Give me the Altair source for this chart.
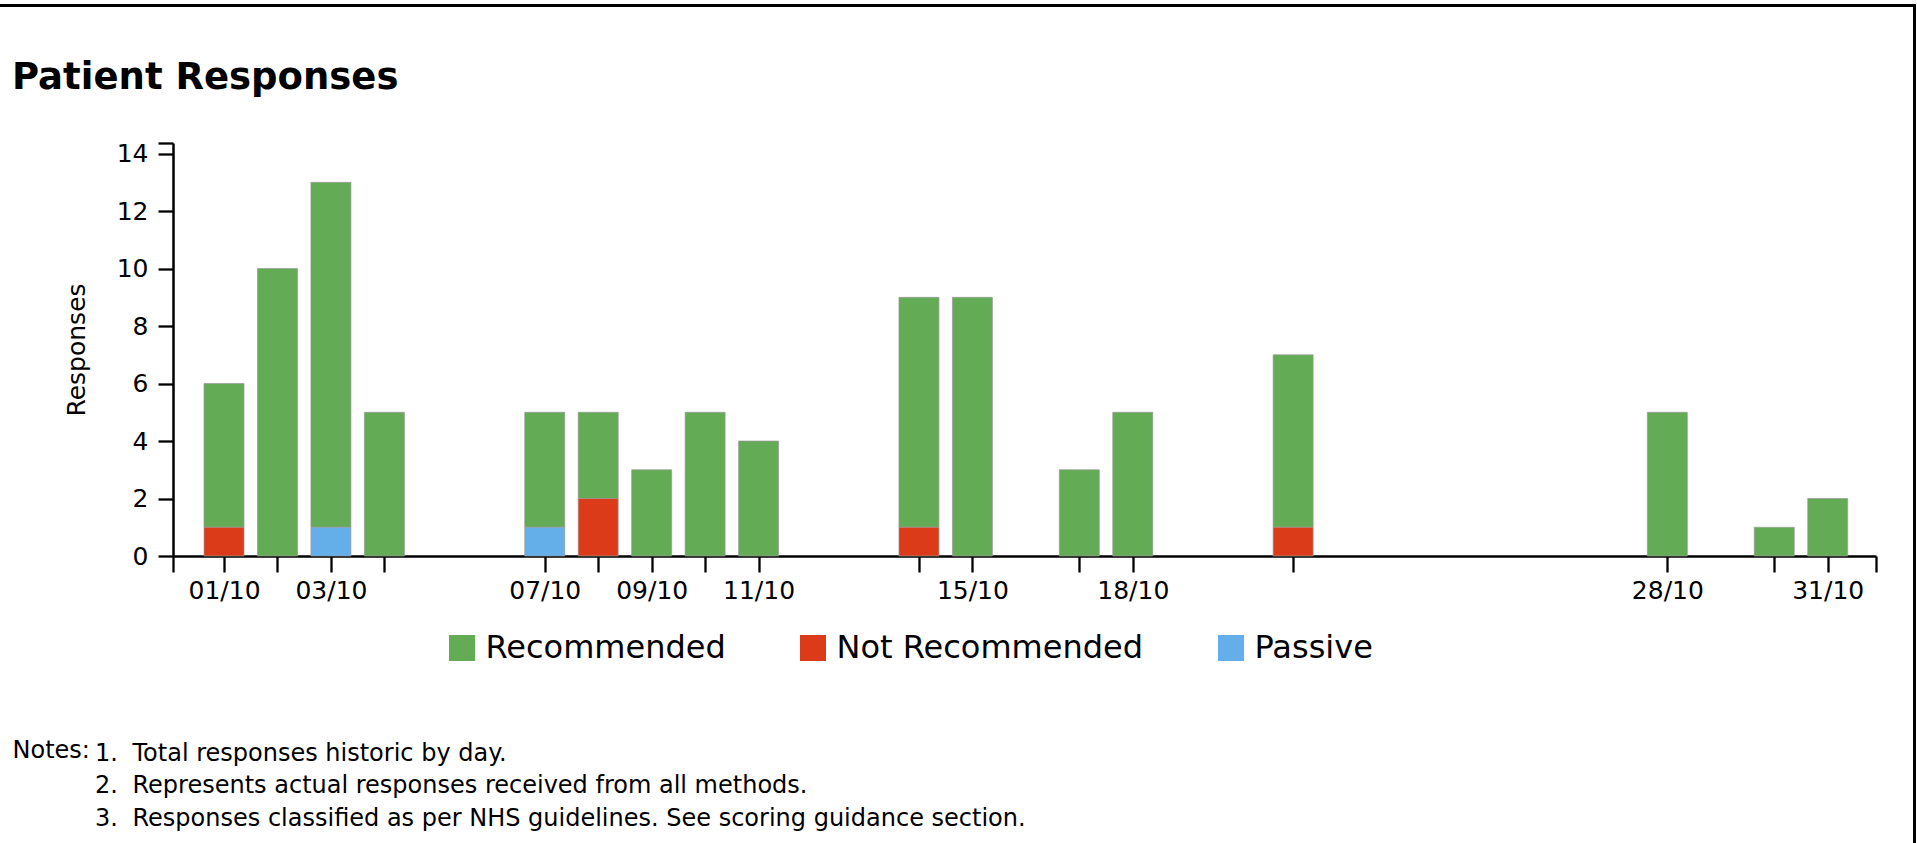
import altair as alt
import pandas as pd

# ---------------- data ----------------
dates = ["2024-10-01", "2024-10-02", "2024-10-03", "2024-10-04", "2024-10-07",
         "2024-10-08", "2024-10-09", "2024-10-10", "2024-10-11", "2024-10-14",
         "2024-10-15", "2024-10-17", "2024-10-18", "2024-10-21", "2024-10-28",
         "2024-10-30", "2024-10-31"]
recommended     = [5, 10, 12, 5, 4, 3, 3, 5, 4, 8, 9, 3, 5, 6, 5, 1, 2]
not_recommended = [1, 0, 0, 0, 0, 2, 0, 0, 0, 1, 0, 0, 0, 1, 0, 0, 0]
passive         = [0, 0, 1, 0, 1, 0, 0, 0, 0, 0, 0, 0, 0, 0, 0, 0, 0]

series = ["Recommended", "Not Recommended", "Passive"]
series_colors = ["#63ab54", "#dc3b1a", "#64aeea"]
stack_rank = {"Not Recommended": 0, "Passive": 1, "Recommended": 2}

labelled_days = ["01/10", "03/10", "07/10", "09/10", "11/10", "15/10", "18/10", "28/10", "31/10"]
y_ticks = [0, 2, 4, 6, 8, 10, 12, 14]
y_max = 14.37

title_text = "Patient Responses"
notes_label = "Notes:"
note_numbers = ["1.", "2.", "3."]
note_lines = ["Total responses historic by day.",
              "Represents actual responses received from all methods.",
              "Responses classified as per NHS guidelines. See scoring guidance section."]

# ---------------- long table ----------------
rows = []
for d, r, n, p in zip(dates, recommended, not_recommended, passive):
    for name, v in (("Recommended", r), ("Not Recommended", n), ("Passive", p)):
        if v > 0:
            rows.append({"date": d, "series": name, "count": v, "rank": stack_rank[name]})
df = pd.DataFrame(rows)

# ---------------- layout (pixels) ----------------
W, H = 1703, 413
PAD_L, PAD_T = 173, 143
PAD_R, PAD_B = 1917 - PAD_L - W, 843 - PAD_T - H
FONT = "DejaVu Sans"

def utc_day(month, day, hours=0, minutes=0):
    return alt.DateTime(year=2024, month=month, date=day, hours=hours, minutes=minutes, utc=True)

x_start = utc_day(9, 30, 1, 6)
x_end = utc_day(10, 31, 21, 41)
tick_values = [x_start] + [utc_day(int(s[5:7]), int(s[8:10])) for s in dates] + [x_end]

label_list = ",".join("'" + s + "'" for s in labelled_days)
x_label_expr = ("utchours(datum.value) == 0 && indexof([" + label_list +
                "], utcFormat(datum.value, '%d/%m')) >= 0 ? utcFormat(datum.value, '%d/%m') : ''")

bars = alt.Chart(df).mark_bar(width=40, stroke="#9a9a9a", strokeWidth=1, strokeOpacity=0.7).encode(
    x=alt.X("date:T", title=None,
            scale=alt.Scale(type="utc", domain=[x_start, x_end], padding=0, nice=False),
            axis=alt.Axis(values=tick_values, labelExpr=x_label_expr, grid=False,
                          tickSize=16, tickWidth=2.3, tickColor="black",
                          domainColor="black", domainWidth=2.5,
                          labelFont=FONT, labelFontSize=25, labelColor="black",
                          labelPadding=6, labelOverlap=False, labelFlush=False,
                          labelBound=False)),
    y=alt.Y("count:Q", stack="zero", title="Responses",
            scale=alt.Scale(domain=[0, y_max], nice=False, zero=True),
            axis=alt.Axis(values=y_ticks + [y_max],
                          labelExpr="datum.value <= 14 ? datum.label : ''",
                          grid=False, tickSize=15, tickWidth=2.3, tickColor="black",
                          domainColor="black", domainWidth=2.5,
                          labelFont=FONT, labelFontSize=25, labelColor="black",
                          labelPadding=10, titleFont=FONT, titleFontSize=25,
                          titleFontWeight="normal", titleColor="black",
                          titlePadding=27)),
    color=alt.Color("series:N", title=None,
                    scale=alt.Scale(domain=series, range=series_colors),
                    legend=alt.Legend(orient="none", legendX=273, legendY=489,
                                      direction="horizontal", symbolType="square",
                                      symbolSize=676, symbolStrokeWidth=0,
                                      symbolOpacity=1,
                                      labelFont=FONT, labelFontSize=32,
                                      labelColor="black", labelOffset=7.5,
                                      columnPadding=71, padding=0,
                                      labelLimit=400)),
    order=alt.Order("rank:Q", sort="ascending"),
)

one = pd.DataFrame({"k": [0]})

title = alt.Chart(one).mark_text(
    text=title_text, font=FONT, fontSize=37, fontWeight="bold", color="black",
    align="left", baseline="alphabetic"
).encode(x=alt.value(12 - PAD_L), y=alt.value(89 - PAD_T))

notes_head = alt.Chart(one).mark_text(
    text=notes_label, font=FONT, fontSize=24, color="black",
    align="left", baseline="alphabetic"
).encode(x=alt.value(12.5 - PAD_L), y=alt.value(758 - PAD_T))

notes_num = alt.Chart(one).mark_text(
    text=note_numbers, font=FONT, fontSize=24, color="black", lineHeight=32.8,
    align="left", baseline="alphabetic"
).encode(x=alt.value(95 - PAD_L), y=alt.value(760.5 - PAD_T))

notes_txt = alt.Chart(one).mark_text(
    text=note_lines, font=FONT, fontSize=24, color="black", lineHeight=32.8,
    align="left", baseline="alphabetic"
).encode(x=alt.value(132.5 - PAD_L), y=alt.value(760.5 - PAD_T))

border_top = alt.Chart(one).mark_rule(color="black", strokeWidth=3).encode(
    x=alt.value(-PAD_L), x2=alt.value(1916 - PAD_L), y=alt.value(5.5 - PAD_T))
border_right = alt.Chart(one).mark_rule(color="black", strokeWidth=3).encode(
    x=alt.value(1914.5 - PAD_L), y=alt.value(4 - PAD_T), y2=alt.value(843 - PAD_T))

chart = alt.layer(bars, title, notes_head, notes_num, notes_txt, border_top, border_right).properties(
    width=W, height=H,
    autosize=alt.AutoSizeParams(type="none"),
    padding={"left": PAD_L, "top": PAD_T, "right": PAD_R, "bottom": PAD_B},
).configure(font=FONT, background="white").configure_view(strokeWidth=0)

chart.save("out.html", embed_options={"renderer": "svg", "actions": False})
